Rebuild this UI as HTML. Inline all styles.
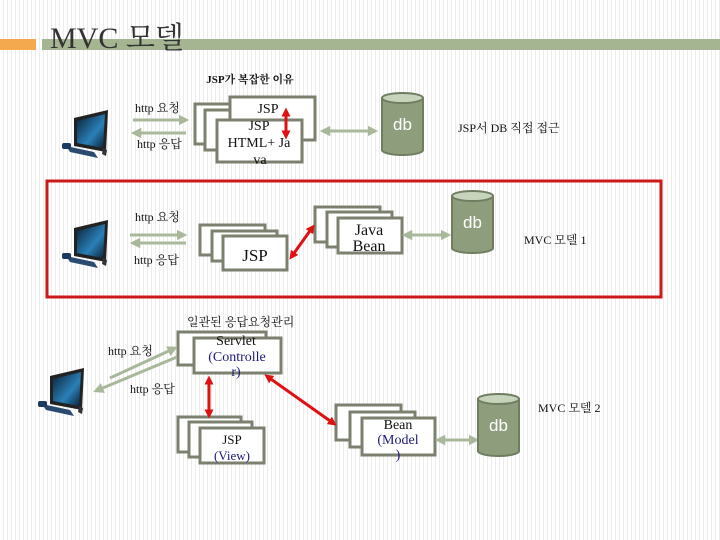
<!DOCTYPE html>
<html><head><meta charset="utf-8"><style>
html,body{margin:0;padding:0}
body{width:720px;height:540px;overflow:hidden;background:#fff repeating-linear-gradient(90deg,#fff 0,#fff 3px,#ececec 3px,#ececec 4px)}
svg{position:absolute;left:0;top:0}
text{font-family:"Liberation Serif","Noto Serif CJK SC",serif;fill:#111}
</style></head><body>
<svg width="720" height="540" xmlns="http://www.w3.org/2000/svg">
<defs>
<marker id="g" viewBox="0 0 10 10" refX="5" refY="5" markerWidth="3.5" markerHeight="3.5" orient="auto-start-reverse"><path d="M0,0L10,5L0,10z" fill="#a9b89a"/></marker>
<marker id="r" viewBox="0 0 10 10" refX="5" refY="5" markerWidth="3" markerHeight="3" orient="auto-start-reverse"><path d="M0,0L10,5L0,10z" fill="#e01010"/></marker>
<linearGradient id="sc" x1="0" y1="0" x2="1" y2="1"><stop offset="0" stop-color="#0a2035"/><stop offset="0.6" stop-color="#2a80b8"/><stop offset="1" stop-color="#0a2035"/></linearGradient>
<g id="pc">
<polygon points="12,8 46,0 44,42 12,36" fill="#222"/>
<polygon points="15,11 43,4 41,38 15,33" fill="url(#sc)"/>
<polygon points="41,38 45,40 44,46 40,44" fill="#333"/>
<polygon points="4,36 32,42 36,48 8,42" fill="#2a4a70"/>
<rect x="0" y="33" width="9" height="6" rx="2" fill="#1a3a60"/>
</g>
<g id="db">
<rect x="0" y="6" width="41" height="52" fill="#8e9e7c" stroke="#6f7d60" stroke-width="2"/>
<ellipse cx="20.5" cy="58" rx="20.5" ry="5" fill="#8e9e7c" stroke="#6f7d60" stroke-width="2"/>
<rect x="1" y="6" width="39" height="52" fill="#8e9e7c"/>
<ellipse cx="20.5" cy="6" rx="20.5" ry="5" fill="#c8d3bb" stroke="#6f7d60" stroke-width="2"/>
<text x="20.5" y="38" text-anchor="middle" style="font-family:'Liberation Sans',sans-serif;font-size:17px;fill:#fff">db</text>
</g>
</defs>
<rect x="0" y="39" width="36" height="11" fill="#f4a94e"/>
<rect x="42" y="39" width="678" height="11" fill="#a5b592"/>
<text x="50" y="48" style="font-size:30px;fill:#333">MVC 모델</text>

<g fill="#fff" stroke="#7b806f" stroke-width="3">
<rect x="195" y="104" width="50" height="40"/><rect x="205" y="110" width="50" height="40"/>
<rect x="230" y="97" width="85" height="43"/><rect x="217" y="120" width="85" height="42"/>
<rect x="200" y="225" width="65" height="30"/><rect x="212" y="231" width="65" height="30"/><rect x="223" y="236" width="64" height="34"/>
<rect x="315" y="207" width="65" height="35"/><rect x="327" y="212" width="65" height="35"/><rect x="338" y="218" width="64" height="35"/>
<rect x="178" y="332" width="88" height="33"/><rect x="194" y="338" width="87" height="35"/>
<rect x="178" y="417" width="63" height="35"/><rect x="189" y="422" width="63" height="35"/><rect x="200" y="428" width="64" height="35"/>
<rect x="336" y="405" width="65" height="35"/><rect x="350" y="412" width="65" height="35"/><rect x="362" y="418" width="73" height="37"/>
</g>
<rect x="47" y="181" width="614" height="116" fill="none" stroke="#cc1a1a" stroke-width="3"/>

<text x="250" y="83" text-anchor="middle" style="font-size:11px;font-weight:bold">JSP가 복잡한 이유</text>
<use href="#pc" x="62" y="110"/><use href="#pc" x="62" y="220"/><use href="#pc" x="38" y="368"/>
<g style="font-size:12px"><text x="135" y="112">http 요청</text><text x="137" y="148">http 응답</text>
<text x="135" y="221">http 요청</text><text x="134" y="264">http 응답</text>
<text x="108" y="355">http 요청</text><text x="130" y="393">http 응답</text>
<text x="187" y="326">일관된 응답요청관리</text>
<text x="458" y="132">JSP서 DB 직접 접근</text><text x="524" y="244">MVC 모델 1</text><text x="538" y="412">MVC 모델 2</text></g>
<g stroke="#a9b89a" stroke-width="3" fill="none">
<line x1="133" y1="120" x2="184" y2="120" marker-end="url(#g)"/><line x1="186" y1="133" x2="136" y2="133" marker-end="url(#g)"/>
<line x1="325" y1="131" x2="373" y2="131" marker-start="url(#g)" marker-end="url(#g)"/>
<line x1="130" y1="235" x2="182" y2="235" marker-end="url(#g)"/><line x1="186" y1="243" x2="135" y2="243" marker-end="url(#g)"/>
<line x1="407" y1="235" x2="446" y2="235" marker-start="url(#g)" marker-end="url(#g)"/>
<line x1="110" y1="378" x2="173" y2="349" marker-end="url(#g)"/><line x1="177" y1="357" x2="98" y2="390" marker-end="url(#g)"/>
<line x1="440" y1="440" x2="474" y2="440" marker-start="url(#g)" marker-end="url(#g)"/>
</g>
<g stroke="#e01010" stroke-width="3" fill="none">
<line x1="286" y1="112" x2="286" y2="135" marker-start="url(#r)" marker-end="url(#r)"/>
<line x1="292" y1="256" x2="312" y2="228" marker-start="url(#r)" marker-end="url(#r)"/>
<line x1="209" y1="380" x2="209" y2="414" marker-start="url(#r)" marker-end="url(#r)"/>
<line x1="268" y1="377" x2="333" y2="423" marker-start="url(#r)" marker-end="url(#r)"/>
</g>
<use href="#db" x="382" y="92"/><use href="#db" x="452" y="190"/><use href="#db" x="478" y="393"/>
<g text-anchor="middle" style="font-size:14px">
<text x="268" y="113">JSP</text><text x="259" y="130">JSP</text><text x="259" y="147">HTML+ Ja</text><text x="260" y="164">va</text>
<text x="255" y="261" style="font-size:17px">JSP</text>
<text x="369" y="235" style="font-size:16px">Java</text><text x="369" y="251" style="font-size:16px">Bean</text>
<text x="236" y="345">Servlet</text><text x="237" y="361" style="fill:#1a1a7a">(Controlle</text><text x="236" y="376" style="fill:#1a1a7a">r)</text>
<text x="232" y="444" style="font-size:13px">JSP</text><text x="232" y="460" style="font-size:13px;fill:#1a1a7a">(View)</text>
<text x="398" y="429">Bean</text><text x="398" y="444" style="fill:#1a1a7a">(Model</text><text x="398" y="459" style="fill:#1a1a7a">)</text>
</g>
</svg>
</body></html>
